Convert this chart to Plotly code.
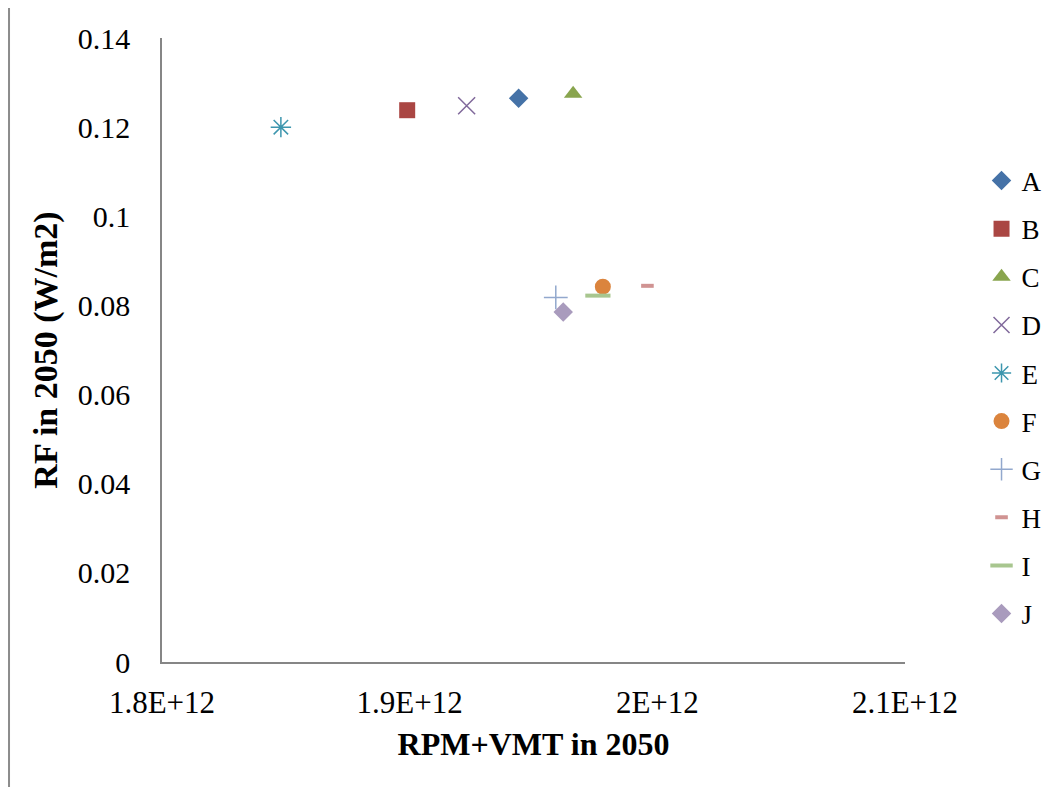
import plotly.graph_objects as go

names = ["A", "B", "C", "D", "E", "F", "G", "H", "I", "J"]
x_vals = [1.944e12, 1.899e12, 1.966e12, 1.923e12, 1.848e12, 1.978e12, 1.959e12, 1.996e12, 1.976e12, 1.962e12]
y_vals = [0.1265, 0.1238, 0.1275, 0.1248, 0.1200, 0.0842, 0.0818, 0.0844, 0.0822, 0.0785]

colors = ["#4572A7", "#AA4643", "#89A54E", "#80699B", "#3D96AE", "#DB843D", "#92A8CD", "#D09392", "#A8C68F", "#A99BBD"]
symbols = ["diamond", "square", "triangle-up", "x-thin-open", "asterisk-open", "circle", "cross-thin-open", "line-ew-open", "line-ew-open", "diamond"]
sizes = [15, 16, 16, 17, 17, 16, 17, 9, 18, 15]
lw = [0, 0, 0, 1.5, 1.5, 0, 1.5, 4, 4, 0]

fig = go.Figure()
for i, n in enumerate(names):
    fig.add_trace(go.Scatter(
        x=[x_vals[i]], y=[y_vals[i]], mode="markers", name=n, legendgroup=n,
        marker=dict(symbol=symbols[i], size=sizes[i], color=colors[i],
                    line=dict(color=colors[i], width=lw[i]))))

font = "Liberation Serif, Times New Roman, serif"
fig.update_layout(
    width=1050, height=779,
    margin=dict(l=154, r=153, t=30, b=125),
    paper_bgcolor="white", plot_bgcolor="white",
    font=dict(family=font, size=28, color="black"),
    showlegend=True,
    legend=dict(x=1.103, y=0.81, xanchor="left", yanchor="top",
                font=dict(family=font, size=27), tracegroupgap=10,
                bgcolor="rgba(0,0,0,0)"),
    xaxis=dict(range=[1.8e12, 2.1e12], tickvals=[1.8e12, 1.9e12, 2.0e12, 2.1e12],
               ticktext=["1.8E+12", "1.9E+12", "2E+12", "2.1E+12"],
               tickfont=dict(family=font, size=31),
               showgrid=False, zeroline=False, showline=True, linecolor="#868686", linewidth=1.5,
               ticks="", ticklabelstandoff=12,
               title=dict(text="<b>RPM+VMT in 2050</b>", font=dict(family=font, size=32), standoff=14)),
    yaxis=dict(range=[0, 0.14], tickvals=[0, 0.02, 0.04, 0.06, 0.08, 0.1, 0.12, 0.14],
               ticktext=["0", "0.02", "0.04", "0.06", "0.08", "0.1", "0.12", "0.14"],
               tickfont=dict(family=font, size=30),
               showgrid=False, zeroline=False, showline=True, linecolor="#868686", linewidth=1.5,
               ticks="", ticklabelstandoff=24,
               title=dict(text="<b>RF in 2050 (W/m2)</b>", font=dict(family=font, size=34), standoff=10)),
)

# outer chart border (left and top edges visible)
fig.add_shape(type="line", xref="paper", yref="paper", x0=-0.2059, x1=-0.2059, y0=-0.3, y1=1.0513,
              line=dict(color="#8c8c8c", width=2))
fig.add_shape(type="line", xref="paper", yref="paper", x0=-0.2059, x1=1.3, y0=1.0513, y1=1.0513,
              line=dict(color="#8c8c8c", width=2))

fig.write_html("out.html")
